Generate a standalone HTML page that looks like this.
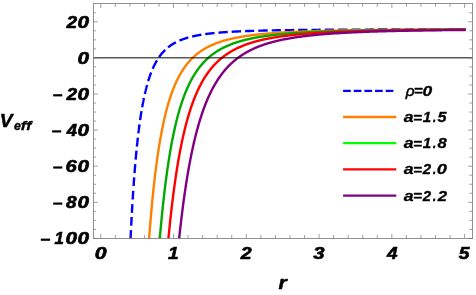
<!DOCTYPE html>
<html><head><meta charset="utf-8"><style>html,body{margin:0;padding:0;background:#fff}svg{display:block}</style></head><body>
<svg width="476" height="295" viewBox="0 0 476 295">
<defs><clipPath id="c"><rect x="93.50" y="3.40" width="379.10" height="235.00"/></clipPath></defs>
<rect width="476" height="295" fill="#fff"/>
<g clip-path="url(#c)" fill="none" stroke-width="2.4" stroke-linejoin="round">
<path d="M130.52 239.41 L130.55 238.63 L130.59 237.84 L130.63 237.06 L130.66 236.28 L130.70 235.50 L130.74 234.73 L130.78 233.96 L130.82 233.19 L130.85 232.42 L130.89 231.66 L130.93 230.90 L130.97 230.15 M131.19 225.67 L131.23 224.93 L131.27 224.19 L131.31 223.46 L131.35 222.73 L131.38 222.01 L131.42 221.29 L131.46 220.57 L131.50 219.85 L131.54 219.13 L131.58 218.42 L131.62 217.71 L131.65 217.00 M131.89 212.82 L131.93 212.13 L131.96 211.44 L132.00 210.76 L132.04 210.08 L132.08 209.40 L132.12 208.72 L132.16 208.05 L132.20 207.38 L132.24 206.71 L132.28 206.05 L132.32 205.38 L132.36 204.72 L132.40 204.06 M132.68 199.52 L132.72 198.89 L132.76 198.25 L132.80 197.62 L132.84 196.98 L132.88 196.35 L132.92 195.73 L132.96 195.10 L133.00 194.48 L133.04 193.86 L133.08 193.24 L133.12 192.63 L133.16 192.02 L133.20 191.41 L133.24 190.80 M133.57 186.01 L133.61 185.42 L133.65 184.84 L133.69 184.25 L133.73 183.67 L133.77 183.09 L133.81 182.52 L133.86 181.94 L133.90 181.37 L133.94 180.80 L133.98 180.23 L134.02 179.66 L134.06 179.10 L134.10 178.54 L134.15 177.98 L134.19 177.42 M134.52 173.03 L134.57 172.49 L134.61 171.95 L134.65 171.42 L134.69 170.89 L134.74 170.35 L134.78 169.82 L134.82 169.30 L134.86 168.77 L134.91 168.25 L134.95 167.73 L134.99 167.21 L135.04 166.69 L135.08 166.17 L135.12 165.66 L135.16 165.15 L135.21 164.64 L135.25 164.13 M135.64 159.65 L135.69 159.16 L135.73 158.67 L135.77 158.18 L135.82 157.70 L135.86 157.22 L135.90 156.74 L135.95 156.26 L135.99 155.78 L136.04 155.31 L136.08 154.84 L136.13 154.37 L136.17 153.90 L136.21 153.43 L136.26 152.96 L136.30 152.50 L136.35 152.04 L136.39 151.58 L136.44 151.12 L136.48 150.66 M136.89 146.62 L136.93 146.18 L136.98 145.74 L137.02 145.31 L137.07 144.87 L137.11 144.44 L137.16 144.01 L137.20 143.58 L137.25 143.15 L137.30 142.72 L137.34 142.29 L137.39 141.87 L137.43 141.45 L137.48 141.03 L137.52 140.61 L137.57 140.19 L137.62 139.77 L137.66 139.36 L137.71 138.95 L137.76 138.53 L137.80 138.12 L137.85 137.72 M138.36 133.32 L138.41 132.93 L138.46 132.54 L138.50 132.16 L138.55 131.77 L138.60 131.39 L138.65 131.00 L138.69 130.62 L138.74 130.24 L138.79 129.86 L138.84 129.49 L138.88 129.11 L138.93 128.73 L138.98 128.36 L139.03 127.99 L139.08 127.62 L139.12 127.25 L139.17 126.88 L139.22 126.52 L139.27 126.15 L139.32 125.79 L139.36 125.43 L139.41 125.07 L139.46 124.71 L139.51 124.35 M140.10 120.16 L140.14 119.81 L140.19 119.48 L140.24 119.14 L140.29 118.80 L140.34 118.46 L140.39 118.13 L140.44 117.80 L140.49 117.46 L140.54 117.13 L140.59 116.80 L140.64 116.47 L140.69 116.15 L140.74 115.82 L140.79 115.50 L140.84 115.17 L140.89 114.85 L140.94 114.53 L140.99 114.21 L141.04 113.89 L141.09 113.57 L141.14 113.26 L141.19 112.94 L141.24 112.63 L141.30 112.32 L141.35 112.01 L141.40 111.69 L141.45 111.39 L141.50 111.08 M142.17 107.18 L142.22 106.88 L142.27 106.59 L142.32 106.30 L142.38 106.01 L142.43 105.73 L142.48 105.44 L142.53 105.15 L142.58 104.87 L142.64 104.59 L142.69 104.30 L142.74 104.02 L142.79 103.74 L142.85 103.46 L142.90 103.18 L142.95 102.91 L143.01 102.63 L143.06 102.35 L143.11 102.08 L143.16 101.81 L143.22 101.54 L143.27 101.26 L143.32 100.99 L143.38 100.73 L143.43 100.46 L143.48 100.19 L143.54 99.92 L143.59 99.66 L143.64 99.40 L143.70 99.13 L143.75 98.87 L143.81 98.61 L143.86 98.35 L143.91 98.09 M144.79 94.07 L144.84 93.83 L144.90 93.59 L144.95 93.35 L145.01 93.11 L145.06 92.87 L145.12 92.63 L145.17 92.39 L145.23 92.15 L145.29 91.92 L145.34 91.68 L145.40 91.45 L145.45 91.22 L145.51 90.98 L145.57 90.75 L145.62 90.52 L145.68 90.29 L145.73 90.06 L145.79 89.83 L145.85 89.61 L145.90 89.38 L145.96 89.16 L146.02 88.93 L146.07 88.71 L146.13 88.48 L146.19 88.26 L146.24 88.04 L146.30 87.82 L146.36 87.60 L146.41 87.38 L146.47 87.16 L146.53 86.95 L146.59 86.73 L146.64 86.52 L146.70 86.30 L146.76 86.09 L146.82 85.87 L146.87 85.66 L146.93 85.45 L146.99 85.24 L147.05 85.03 M148.16 81.19 L148.22 80.99 L148.28 80.80 L148.34 80.60 L148.40 80.41 L148.46 80.22 L148.52 80.03 L148.58 79.84 L148.64 79.65 L148.70 79.46 L148.76 79.27 L148.82 79.08 L148.88 78.90 L148.94 78.71 L149.00 78.53 L149.06 78.34 L149.12 78.16 L149.18 77.97 L149.24 77.79 L149.30 77.61 L149.36 77.43 L149.43 77.25 L149.49 77.07 L149.55 76.89 L149.61 76.71 L149.67 76.53 L149.73 76.35 L149.79 76.18 L149.85 76.00 L149.91 75.83 L149.98 75.65 L150.04 75.48 L150.10 75.30 L150.16 75.13 L150.22 74.96 L150.29 74.79 L150.35 74.62 L150.41 74.45 L150.47 74.28 L150.53 74.11 L150.60 73.94 L150.66 73.77 L150.72 73.61 L150.78 73.44 L150.85 73.28 L150.91 73.11 L150.97 72.95 L151.04 72.78 L151.10 72.62 L151.16 72.46 M152.70 68.73 L152.76 68.58 L152.83 68.44 L152.89 68.29 L152.96 68.14 L153.03 68.00 L153.09 67.85 L153.16 67.71 L153.22 67.56 L153.29 67.42 L153.35 67.28 L153.42 67.13 L153.49 66.99 L153.55 66.85 L153.62 66.71 L153.68 66.57 L153.75 66.43 L153.82 66.29 L153.88 66.15 L153.95 66.01 L154.02 65.88 L154.08 65.74 L154.15 65.60 L154.22 65.47 L154.28 65.33 L154.35 65.19 L154.42 65.06 L154.48 64.93 L154.55 64.79 L154.62 64.66 L154.69 64.53 L154.75 64.39 L154.82 64.26 L154.89 64.13 L154.96 64.00 L155.03 63.87 L155.09 63.74 L155.16 63.61 L155.23 63.48 L155.30 63.35 L155.37 63.23 L155.44 63.10 L155.50 62.97 L155.57 62.85 L155.64 62.72 L155.71 62.59 L155.78 62.47 L155.85 62.34 L155.92 62.22 L155.99 62.10 L156.05 61.97 L156.12 61.85 L156.19 61.73 L156.26 61.61 L156.33 61.49 L156.40 61.37 L156.47 61.24 L156.54 61.12 L156.61 61.01 L156.68 60.89 L156.75 60.77 L156.82 60.65 L156.89 60.53 L156.96 60.41 M159.11 57.10 L159.19 56.99 L159.26 56.89 L159.33 56.78 L159.41 56.68 L159.48 56.58 L159.55 56.48 L159.63 56.37 L159.70 56.27 L159.78 56.17 L159.85 56.07 L159.92 55.97 L160.00 55.87 L160.07 55.77 L160.15 55.67 L160.22 55.57 L160.29 55.47 L160.37 55.37 L160.44 55.28 L160.52 55.18 L160.59 55.08 L160.67 54.98 L160.74 54.89 L160.82 54.79 L160.89 54.70 L160.97 54.60 L161.04 54.51 L161.12 54.41 L161.20 54.32 L161.27 54.22 L161.35 54.13 L161.42 54.04 L161.50 53.94 L161.58 53.85 L161.65 53.76 L161.73 53.67 L161.80 53.58 L161.88 53.48 L161.96 53.39 L162.03 53.30 L162.11 53.21 L162.19 53.12 L162.26 53.03 L162.34 52.95 L162.42 52.86 L162.50 52.77 L162.57 52.68 L162.65 52.59 L162.73 52.50 L162.81 52.42 L162.88 52.33 L162.96 52.24 L163.04 52.16 L163.12 52.07 L163.20 51.99 L163.27 51.90 L163.35 51.82 L163.43 51.73 L163.51 51.65 L163.59 51.56 L163.67 51.48 L163.75 51.40 L163.82 51.31 L163.90 51.23 L163.98 51.15 L164.06 51.07 L164.14 50.99 L164.22 50.90 L164.30 50.82 L164.38 50.74 L164.46 50.66 L164.54 50.58 L164.62 50.50 L164.70 50.42 L164.78 50.34 L164.86 50.26 L164.94 50.19 L165.02 50.11 L165.10 50.03 L165.18 49.95 M168.07 47.40 L168.15 47.34 L168.24 47.27 L168.32 47.20 L168.41 47.13 L168.49 47.07 L168.58 47.00 L168.66 46.93 L168.75 46.87 L168.83 46.80 L168.92 46.74 L169.00 46.67 L169.09 46.61 L169.17 46.54 L169.26 46.48 L169.34 46.41 L169.43 46.35 L169.52 46.28 L169.60 46.22 L169.69 46.16 L169.78 46.09 L169.86 46.03 L169.95 45.97 L170.04 45.90 L170.12 45.84 L170.21 45.78 L170.30 45.72 L170.38 45.66 L170.47 45.59 L170.56 45.53 L170.65 45.47 L170.73 45.41 L170.82 45.35 L170.91 45.29 L171.00 45.23 L171.08 45.17 L171.17 45.11 L171.26 45.05 L171.35 44.99 L171.44 44.93 L171.53 44.88 L171.61 44.82 L171.70 44.76 L171.79 44.70 L171.88 44.64 L171.97 44.59 L172.06 44.53 L172.15 44.47 L172.24 44.41 L172.33 44.36 L172.42 44.30 L172.51 44.24 L172.60 44.19 L172.69 44.13 L172.78 44.08 L172.87 44.02 L172.96 43.97 L173.05 43.91 L173.14 43.86 L173.23 43.80 L173.32 43.75 L173.41 43.69 L173.50 43.64 L173.59 43.58 L173.69 43.53 L173.78 43.48 L173.87 43.42 L173.96 43.37 L174.05 43.32 L174.14 43.27 L174.24 43.21 L174.33 43.16 L174.42 43.11 L174.51 43.06 L174.60 43.01 L174.70 42.95 L174.79 42.90 L174.88 42.85 L174.98 42.80 L175.07 42.75 L175.16 42.70 L175.25 42.65 L175.35 42.60 L175.44 42.55 L175.54 42.50 L175.63 42.45 L175.72 42.40 L175.82 42.35 L175.91 42.30 M179.48 40.61 L179.57 40.57 L179.67 40.53 L179.77 40.49 L179.87 40.44 L179.97 40.40 L180.07 40.36 L180.17 40.32 L180.27 40.28 L180.37 40.24 L180.47 40.19 L180.57 40.15 L180.67 40.11 L180.77 40.07 L180.87 40.03 L180.97 39.99 L181.07 39.95 L181.17 39.91 L181.27 39.87 L181.37 39.83 L181.47 39.79 L181.57 39.75 L181.67 39.71 L181.78 39.67 L181.88 39.64 L181.98 39.60 L182.08 39.56 L182.18 39.52 L182.28 39.48 L182.39 39.44 L182.49 39.41 L182.59 39.37 L182.69 39.33 L182.80 39.29 L182.90 39.25 L183.00 39.22 L183.11 39.18 L183.21 39.14 L183.31 39.11 L183.42 39.07 L183.52 39.03 L183.62 39.00 L183.73 38.96 L183.83 38.92 L183.93 38.89 L184.04 38.85 L184.14 38.81 L184.25 38.78 L184.35 38.74 L184.46 38.71 L184.56 38.67 L184.67 38.64 L184.77 38.60 L184.88 38.57 L184.98 38.53 L185.09 38.50 L185.19 38.46 L185.30 38.43 L185.41 38.39 L185.51 38.36 L185.62 38.33 L185.72 38.29 L185.83 38.26 L185.94 38.23 L186.04 38.19 L186.15 38.16 L186.26 38.12 L186.37 38.09 L186.47 38.06 L186.58 38.03 L186.69 37.99 L186.80 37.96 L186.90 37.93 L187.01 37.90 L187.12 37.86 L187.23 37.83 L187.34 37.80 L187.44 37.77 L187.55 37.74 L187.66 37.70 L187.77 37.67 L187.88 37.64 L187.99 37.61 L188.10 37.58 L188.21 37.55 L188.32 37.52 M192.13 36.53 L192.24 36.50 L192.36 36.47 L192.47 36.45 L192.59 36.42 L192.70 36.39 L192.82 36.37 L192.93 36.34 L193.05 36.31 L193.16 36.29 L193.28 36.26 L193.39 36.24 L193.51 36.21 L193.63 36.18 L193.74 36.16 L193.86 36.13 L193.98 36.11 L194.09 36.08 L194.21 36.06 L194.33 36.03 L194.44 36.00 L194.56 35.98 L194.68 35.95 L194.80 35.93 L194.92 35.90 L195.03 35.88 L195.15 35.86 L195.27 35.83 L195.39 35.81 L195.51 35.78 L195.63 35.76 L195.74 35.73 L195.86 35.71 L195.98 35.68 L196.10 35.66 L196.22 35.64 L196.34 35.61 L196.46 35.59 L196.58 35.57 L196.70 35.54 L196.82 35.52 L196.94 35.50 L197.06 35.47 L197.18 35.45 L197.30 35.43 L197.42 35.40 L197.55 35.38 L197.67 35.36 L197.79 35.33 L197.91 35.31 L198.03 35.29 L198.15 35.27 L198.28 35.24 L198.40 35.22 L198.52 35.20 L198.64 35.18 L198.77 35.15 L198.89 35.13 L199.01 35.11 L199.13 35.09 L199.26 35.07 L199.38 35.05 L199.50 35.02 L199.63 35.00 L199.75 34.98 L199.88 34.96 L200.00 34.94 L200.13 34.92 L200.25 34.90 L200.37 34.88 L200.50 34.85 L200.62 34.83 L200.75 34.81 L200.87 34.79 L201.00 34.77 L201.13 34.75 L201.25 34.73 L201.38 34.71 M205.23 34.13 L205.36 34.11 L205.49 34.10 L205.62 34.08 L205.76 34.06 L205.89 34.04 L206.02 34.02 L206.15 34.01 L206.28 33.99 L206.42 33.97 L206.55 33.95 L206.68 33.94 L206.81 33.92 L206.95 33.90 L207.08 33.88 L207.21 33.87 L207.35 33.85 L207.48 33.83 L207.61 33.82 L207.75 33.80 L207.88 33.78 L208.02 33.76 L208.15 33.75 L208.28 33.73 L208.42 33.71 L208.55 33.70 L208.69 33.68 L208.82 33.66 L208.96 33.65 L209.10 33.63 L209.23 33.62 L209.37 33.60 L209.50 33.58 L209.64 33.57 L209.78 33.55 L209.91 33.53 L210.05 33.52 L210.19 33.50 L210.32 33.49 L210.46 33.47 L210.60 33.46 L210.74 33.44 L210.87 33.42 L211.01 33.41 L211.15 33.39 L211.29 33.38 L211.43 33.36 L211.57 33.35 L211.70 33.33 L211.84 33.32 L211.98 33.30 L212.12 33.29 L212.26 33.27 L212.40 33.26 L212.54 33.24 L212.68 33.23 L212.82 33.21 L212.96 33.20 L213.10 33.18 L213.24 33.17 L213.39 33.15 L213.53 33.14 L213.67 33.13 L213.81 33.11 L213.95 33.10 L214.09 33.08 L214.23 33.07 L214.38 33.05 L214.52 33.04 M218.43 32.68 L218.58 32.67 L218.73 32.65 L218.88 32.64 L219.02 32.63 L219.17 32.61 L219.32 32.60 L219.47 32.59 L219.62 32.58 L219.77 32.57 L219.92 32.55 L220.07 32.54 L220.22 32.53 L220.36 32.52 L220.51 32.50 L220.66 32.49 L220.82 32.48 L220.97 32.47 L221.12 32.46 L221.27 32.44 L221.42 32.43 L221.57 32.42 L221.72 32.41 L221.87 32.40 L222.02 32.39 L222.18 32.37 L222.33 32.36 L222.48 32.35 L222.63 32.34 L222.79 32.33 L222.94 32.32 L223.09 32.31 L223.25 32.29 L223.40 32.28 L223.55 32.27 L223.71 32.26 L223.86 32.25 L224.02 32.24 L224.17 32.23 L224.32 32.22 L224.48 32.21 L224.63 32.19 L224.79 32.18 L224.95 32.17 L225.10 32.16 L225.26 32.15 L225.41 32.14 L225.57 32.13 L225.73 32.12 L225.88 32.11 L226.04 32.10 L226.20 32.09 L226.35 32.08 L226.51 32.07 L226.67 32.06 L226.83 32.05 L226.98 32.03 L227.14 32.02 L227.30 32.01 L227.46 32.00 L227.62 31.99 L227.78 31.98 M231.65 31.75 L231.82 31.74 L231.98 31.73 L232.15 31.72 L232.31 31.71 L232.48 31.71 L232.64 31.70 L232.81 31.69 L232.97 31.68 L233.14 31.67 L233.30 31.66 L233.47 31.65 L233.64 31.64 L233.80 31.63 L233.97 31.63 L234.14 31.62 L234.30 31.61 L234.47 31.60 L234.64 31.59 L234.81 31.58 L234.97 31.57 L235.14 31.56 L235.31 31.56 L235.48 31.55 L235.65 31.54 L235.82 31.53 L235.99 31.52 L236.16 31.51 L236.33 31.51 L236.50 31.50 L236.67 31.49 L236.84 31.48 L237.01 31.47 L237.18 31.46 L237.35 31.46 L237.52 31.45 L237.69 31.44 L237.86 31.43 L238.04 31.42 L238.21 31.42 L238.38 31.41 L238.55 31.40 L238.73 31.39 L238.90 31.38 L239.07 31.38 L239.24 31.37 L239.42 31.36 L239.59 31.35 L239.77 31.35 L239.94 31.34 L240.11 31.33 L240.29 31.32 L240.46 31.31 L240.64 31.31 L240.81 31.30 L240.99 31.29 M245.09 31.13 L245.27 31.12 L245.45 31.11 L245.63 31.11 L245.81 31.10 L246.00 31.09 L246.18 31.09 L246.36 31.08 L246.54 31.07 L246.73 31.07 L246.91 31.06 L247.09 31.05 L247.28 31.05 L247.46 31.04 L247.64 31.03 L247.83 31.03 L248.01 31.02 L248.20 31.01 L248.38 31.01 L248.57 31.00 L248.75 30.99 L248.94 30.99 L249.12 30.98 L249.31 30.97 L249.49 30.97 L249.68 30.96 L249.87 30.96 L250.05 30.95 L250.24 30.94 L250.43 30.94 L250.62 30.93 L250.80 30.92 L250.99 30.92 L251.18 30.91 L251.37 30.91 L251.56 30.90 L251.75 30.89 L251.94 30.89 L252.13 30.88 L252.32 30.88 L252.51 30.87 L252.70 30.86 L252.89 30.86 L253.08 30.85 L253.27 30.85 L253.46 30.84 L253.65 30.83 L253.84 30.83 L254.03 30.82 L254.23 30.82 M258.32 30.70 L258.52 30.70 L258.71 30.69 L258.91 30.69 L259.11 30.68 L259.31 30.68 L259.51 30.67 L259.71 30.66 L259.90 30.66 L260.10 30.65 L260.30 30.65 L260.50 30.64 L260.70 30.64 L260.90 30.63 L261.11 30.63 L261.31 30.62 L261.51 30.62 L261.71 30.61 L261.91 30.61 L262.11 30.60 L262.32 30.60 L262.52 30.59 L262.72 30.59 L262.92 30.58 L263.13 30.58 L263.33 30.57 L263.53 30.57 L263.74 30.57 L263.94 30.56 L264.15 30.56 L264.35 30.55 L264.56 30.55 L264.76 30.54 L264.97 30.54 L265.17 30.53 L265.38 30.53 L265.59 30.52 L265.79 30.52 L266.00 30.51 L266.21 30.51 L266.41 30.50 L266.62 30.50 L266.83 30.50 L267.04 30.49 L267.25 30.49 L267.46 30.48 L267.66 30.48 M271.68 30.40 L271.90 30.39 L272.11 30.39 L272.33 30.38 L272.54 30.38 L272.76 30.38 L272.97 30.37 L273.19 30.37 L273.41 30.36 L273.62 30.36 L273.84 30.35 L274.06 30.35 L274.27 30.35 L274.49 30.34 L274.71 30.34 L274.93 30.34 L275.15 30.33 L275.36 30.33 L275.58 30.32 L275.80 30.32 L276.02 30.32 L276.24 30.31 L276.46 30.31 L276.68 30.30 L276.90 30.30 L277.12 30.30 L277.34 30.29 L277.57 30.29 L277.79 30.29 L278.01 30.28 L278.23 30.28 L278.45 30.27 L278.68 30.27 L278.90 30.27 L279.12 30.26 L279.35 30.26 L279.57 30.26 L279.79 30.25 L280.02 30.25 L280.24 30.24 L280.47 30.24 L280.69 30.24 L280.92 30.23 M284.80 30.18 L285.03 30.17 L285.26 30.17 L285.49 30.17 L285.72 30.16 L285.95 30.16 L286.19 30.16 L286.42 30.15 L286.65 30.15 L286.88 30.15 L287.12 30.14 L287.35 30.14 L287.59 30.14 L287.82 30.13 L288.05 30.13 L288.29 30.13 L288.52 30.12 L288.76 30.12 L288.99 30.12 L289.23 30.11 L289.47 30.11 L289.70 30.11 L289.94 30.11 L290.18 30.10 L290.42 30.10 L290.65 30.10 L290.89 30.09 L291.13 30.09 L291.37 30.09 L291.61 30.08 L291.85 30.08 L292.09 30.08 L292.33 30.08 L292.57 30.07 L292.81 30.07 L293.05 30.07 L293.29 30.06 L293.53 30.06 L293.77 30.06 L294.01 30.06 L294.26 30.05 M298.17 30.01 L298.42 30.01 L298.67 30.00 L298.92 30.00 L299.16 30.00 L299.41 29.99 L299.66 29.99 L299.91 29.99 L300.16 29.99 L300.41 29.98 L300.66 29.98 L300.91 29.98 L301.16 29.98 L301.41 29.97 L301.67 29.97 L301.92 29.97 L302.17 29.97 L302.42 29.96 L302.68 29.96 L302.93 29.96 L303.18 29.96 L303.44 29.95 L303.69 29.95 L303.94 29.95 L304.20 29.95 L304.45 29.94 L304.71 29.94 L304.97 29.94 L305.22 29.94 L305.48 29.93 L305.73 29.93 L305.99 29.93 L306.25 29.93 L306.51 29.92 L306.76 29.92 L307.02 29.92 L307.28 29.92 L307.54 29.91 M311.46 29.88 L311.73 29.88 L311.99 29.88 L312.26 29.87 L312.52 29.87 L312.79 29.87 L313.05 29.87 L313.32 29.87 L313.58 29.86 L313.85 29.86 L314.12 29.86 L314.39 29.86 L314.65 29.85 L314.92 29.85 L315.19 29.85 L315.46 29.85 L315.73 29.85 L316.00 29.84 L316.27 29.84 L316.54 29.84 L316.81 29.84 L317.08 29.84 L317.35 29.83 L317.62 29.83 L317.89 29.83 L318.17 29.83 L318.44 29.83 L318.71 29.82 L318.98 29.82 L319.26 29.82 L319.53 29.82 L319.81 29.82 L320.08 29.81 L320.36 29.81 L320.63 29.81 M324.80 29.78 L325.08 29.78 L325.36 29.78 L325.65 29.78 L325.93 29.77 L326.21 29.77 L326.49 29.77 L326.78 29.77 L327.06 29.77 L327.34 29.76 L327.63 29.76 L327.91 29.76 L328.20 29.76 L328.48 29.76 L328.77 29.76 L329.05 29.75 L329.34 29.75 L329.63 29.75 L329.91 29.75 L330.20 29.75 L330.49 29.75 L330.78 29.74 L331.06 29.74 L331.35 29.74 L331.64 29.74 L331.93 29.74 L332.22 29.74 L332.51 29.73 L332.80 29.73 L333.09 29.73 L333.38 29.73 L333.68 29.73 L333.97 29.73 M338.09 29.70 L338.39 29.70 L338.69 29.70 L338.99 29.70 L339.29 29.70 L339.59 29.70 L339.88 29.69 L340.18 29.69 L340.48 29.69 L340.79 29.69 L341.09 29.69 L341.39 29.69 L341.69 29.69 L341.99 29.68 L342.29 29.68 L342.60 29.68 L342.90 29.68 L343.20 29.68 L343.51 29.68 L343.81 29.67 L344.12 29.67 L344.42 29.67 L344.73 29.67 L345.03 29.67 L345.34 29.67 L345.65 29.67 L345.95 29.66 L346.26 29.66 L346.57 29.66 L346.88 29.66 L347.18 29.66 L347.49 29.66 M351.54 29.64 L351.86 29.64 L352.17 29.64 L352.49 29.64 L352.80 29.64 L353.12 29.63 L353.44 29.63 L353.75 29.63 L354.07 29.63 L354.39 29.63 L354.71 29.63 L355.03 29.63 L355.34 29.63 L355.66 29.62 L355.98 29.62 L356.30 29.62 L356.62 29.62 L356.94 29.62 L357.26 29.62 L357.59 29.62 L357.91 29.62 L358.23 29.61 L358.55 29.61 L358.88 29.61 L359.20 29.61 L359.52 29.61 L359.85 29.61 L360.17 29.61 L360.50 29.61 M364.76 29.59 L365.09 29.59 L365.43 29.59 L365.76 29.59 L366.09 29.59 L366.42 29.58 L366.76 29.58 L367.09 29.58 L367.42 29.58 L367.76 29.58 L368.09 29.58 L368.43 29.58 L368.76 29.58 L369.10 29.58 L369.44 29.58 L369.77 29.57 L370.11 29.57 L370.45 29.57 L370.79 29.57 L371.12 29.57 L371.46 29.57 L371.80 29.57 L372.14 29.57 L372.48 29.57 L372.82 29.56 L373.16 29.56 L373.51 29.56 L373.85 29.56 M377.98 29.55 L378.33 29.55 L378.68 29.55 L379.03 29.55 L379.38 29.55 L379.73 29.54 L380.08 29.54 L380.43 29.54 L380.78 29.54 L381.13 29.54 L381.48 29.54 L381.83 29.54 L382.18 29.54 L382.54 29.54 L382.89 29.54 L383.24 29.54 L383.60 29.53 L383.95 29.53 L384.31 29.53 L384.66 29.53 L385.02 29.53 L385.38 29.53 L385.73 29.53 L386.09 29.53 L386.45 29.53 L386.81 29.53 L387.16 29.53 M391.50 29.52 L391.87 29.51 L392.23 29.51 L392.60 29.51 L392.96 29.51 L393.33 29.51 L393.70 29.51 L394.06 29.51 L394.43 29.51 L394.80 29.51 L395.17 29.51 L395.54 29.51 L395.91 29.51 L396.28 29.50 L396.65 29.50 L397.02 29.50 L397.39 29.50 L397.76 29.50 L398.13 29.50 L398.51 29.50 L398.88 29.50 L399.25 29.50 L399.63 29.50 L400.00 29.50 L400.38 29.50 M404.54 29.49 L404.92 29.49 L405.30 29.49 L405.68 29.49 L406.06 29.48 L406.45 29.48 L406.83 29.48 L407.21 29.48 L407.60 29.48 L407.98 29.48 L408.37 29.48 L408.75 29.48 L409.14 29.48 L409.52 29.48 L409.91 29.48 L410.30 29.48 L410.69 29.48 L411.08 29.48 L411.46 29.47 L411.85 29.47 L412.24 29.47 L412.63 29.47 L413.03 29.47 L413.42 29.47 L413.81 29.47 M418.15 29.46 L418.55 29.46 L418.95 29.46 L419.35 29.46 L419.75 29.46 L420.15 29.46 L420.55 29.46 L420.95 29.46 L421.35 29.46 L421.75 29.46 L422.16 29.46 L422.56 29.46 L422.96 29.46 L423.37 29.46 L423.77 29.45 L424.18 29.45 L424.58 29.45 L424.99 29.45 L425.39 29.45 L425.80 29.45 L426.21 29.45 L426.62 29.45 L427.02 29.45 M431.14 29.44 L431.55 29.44 L431.97 29.44 L432.38 29.44 L432.80 29.44 L433.21 29.44 L433.63 29.44 L434.05 29.44 L434.47 29.44 L434.88 29.44 L435.30 29.44 L435.72 29.44 L436.14 29.44 L436.56 29.44 L436.98 29.44 L437.41 29.44 L437.83 29.43 L438.25 29.43 L438.67 29.43 L439.10 29.43 L439.52 29.43 L439.95 29.43 L440.37 29.43 M444.65 29.43 L445.08 29.43 L445.52 29.43 L445.95 29.42 L446.38 29.42 L446.81 29.42 L447.25 29.42 L447.68 29.42 L448.12 29.42 L448.55 29.42 L448.99 29.42 L449.43 29.42 L449.86 29.42 L450.30 29.42 L450.74 29.42 L451.18 29.42 L451.62 29.42 L452.06 29.42 L452.50 29.42 L452.94 29.42 L453.38 29.42 L453.82 29.42 M457.83 29.41 L458.27 29.41 L458.72 29.41 L459.17 29.41 L459.62 29.41 L460.07 29.41 L460.52 29.41 L460.97 29.41 L461.42 29.41 L461.88 29.41 L462.33 29.41 L462.78 29.41 L463.23 29.41 L463.69 29.41 L464.14 29.41 L464.60 29.41" stroke="#0000ff"/>
<path d="M148.98 240.21 L149.22 236.93 L149.47 233.71 L149.71 230.54 L149.96 227.41 L150.21 224.34 L150.46 221.31 L150.71 218.33 L150.97 215.39 L151.22 212.50 L151.48 209.66 L151.74 206.86 L151.99 204.10 L152.25 201.39 L152.51 198.72 L152.78 196.09 L153.04 193.50 L153.31 190.95 L153.57 188.44 L153.84 185.96 L154.11 183.53 L154.38 181.14 L154.65 178.78 L154.93 176.46 L155.20 174.17 L155.48 171.92 L155.75 169.71 L156.03 167.53 L156.31 165.38 L156.59 163.26 L156.88 161.18 L157.16 159.13 L157.45 157.12 L157.74 155.13 L158.03 153.18 L158.32 151.25 L158.61 149.36 L158.90 147.49 L159.20 145.66 L159.49 143.85 L159.79 142.07 L160.09 140.32 L160.39 138.59 L160.69 136.89 L161.00 135.22 L161.30 133.57 L161.61 131.95 L161.92 130.36 L162.23 128.79 L162.54 127.24 L162.85 125.72 L163.17 124.22 L163.48 122.74 L163.80 121.29 L164.12 119.86 L164.44 118.45 L164.77 117.06 L165.09 115.70 L165.42 114.36 L165.75 113.03 L166.08 111.73 L166.41 110.45 L166.74 109.19 L167.07 107.94 L167.41 106.72 L167.75 105.52 L168.09 104.33 L168.43 103.16 L168.77 102.01 L169.12 100.88 L169.47 99.77 L169.81 98.67 L170.16 97.59 L170.52 96.53 L170.87 95.48 L171.23 94.45 L171.58 93.44 L171.94 92.44 L172.30 91.46 L172.67 90.49 L173.03 89.53 L173.40 88.60 L173.77 87.67 L174.14 86.76 L174.51 85.87 L174.88 84.99 L175.26 84.12 L175.64 83.27 L176.02 82.42 L176.40 81.60 L176.78 80.78 L177.17 79.98 L177.56 79.19 L177.95 78.41 L178.34 77.65 L178.73 76.89 L179.13 76.15 L179.52 75.42 L179.92 74.70 L180.32 73.99 L180.73 73.30 L181.13 72.61 L181.54 71.93 L181.95 71.27 L182.36 70.61 L182.78 69.97 L183.19 69.33 L183.61 68.71 L184.03 68.09 L184.45 67.49 L184.88 66.89 L185.31 66.30 L185.73 65.73 L186.17 65.16 L186.60 64.60 L187.03 64.05 L187.47 63.50 L187.91 62.97 L188.35 62.44 L188.80 61.92 L189.24 61.41 L189.69 60.91 L190.14 60.42 L190.60 59.93 L191.05 59.45 L191.51 58.98 L191.97 58.52 L192.44 58.06 L192.90 57.61 L193.37 57.16 L193.84 56.73 L194.31 56.30 L194.78 55.88 L195.26 55.46 L195.74 55.05 L196.22 54.65 L196.71 54.25 L197.19 53.86 L197.68 53.47 L198.17 53.09 L198.67 52.72 L199.17 52.35 L199.66 51.99 L200.17 51.64 L200.67 51.28 L201.18 50.94 L201.69 50.60 L202.20 50.27 L202.71 49.94 L203.23 49.61 L203.75 49.29 L204.27 48.98 L204.80 48.67 L205.33 48.36 L205.86 48.06 L206.39 47.77 L206.93 47.48 L207.46 47.19 L208.01 46.91 L208.55 46.63 L209.10 46.36 L209.65 46.09 L210.20 45.83 L210.75 45.57 L211.31 45.31 L211.87 45.06 L212.44 44.81 L213.00 44.56 L213.57 44.32 L214.15 44.09 L214.72 43.85 L215.30 43.62 L215.88 43.40 L216.46 43.17 L217.05 42.95 L217.64 42.74 L218.23 42.53 L218.83 42.32 L219.43 42.11 L220.03 41.91 L220.64 41.71 L221.25 41.51 L221.86 41.32 L222.47 41.13 L223.09 40.94 L223.71 40.75 L224.33 40.57 L224.96 40.39 L225.59 40.22 L226.22 40.04 L226.86 39.87 L227.50 39.70 L228.14 39.54 L228.79 39.38 L229.44 39.21 L230.09 39.06 L230.75 38.90 L231.41 38.75 L232.07 38.60 L232.74 38.45 L233.41 38.30 L234.08 38.16 L234.76 38.02 L235.44 37.88 L236.12 37.74 L236.81 37.60 L237.50 37.47 L238.19 37.34 L238.89 37.21 L239.59 37.08 L240.29 36.96 L241.00 36.84 L241.71 36.72 L242.43 36.60 L243.15 36.48 L243.87 36.36 L244.59 36.25 L245.32 36.14 L246.06 36.03 L246.79 35.92 L247.54 35.81 L248.28 35.71 L249.03 35.60 L249.78 35.50 L250.54 35.40 L251.30 35.30 L252.06 35.20 L252.83 35.11 L253.60 35.01 L254.38 34.92 L255.16 34.83 L255.94 34.74 L256.73 34.65 L257.52 34.56 L258.31 34.48 L259.11 34.39 L259.92 34.31 L260.72 34.23 L261.54 34.15 L262.35 34.07 L263.17 33.99 L264.00 33.91 L264.82 33.84 L265.66 33.76 L266.49 33.69 L267.33 33.62 L268.18 33.54 L269.03 33.47 L269.88 33.41 L270.74 33.34 L271.60 33.27 L272.47 33.20 L273.34 33.14 L274.22 33.08 L275.10 33.01 L275.98 32.95 L276.87 32.89 L277.76 32.83 L278.66 32.77 L279.57 32.71 L280.47 32.66 L281.38 32.60 L282.30 32.54 L283.22 32.49 L284.15 32.44 L285.08 32.38 L286.01 32.33 L286.95 32.28 L287.90 32.23 L288.85 32.18 L289.80 32.13 L290.76 32.08 L291.73 32.03 L292.70 31.99 L293.67 31.94 L294.65 31.90 L295.63 31.85 L296.62 31.81 L297.61 31.76 L298.61 31.72 L299.62 31.68 L300.63 31.64 L301.64 31.60 L302.66 31.56 L303.69 31.52 L304.71 31.48 L305.75 31.44 L306.79 31.40 L307.84 31.37 L308.89 31.33 L309.94 31.30 L311.00 31.26 L312.07 31.23 L313.14 31.19 L314.22 31.16 L315.30 31.12 L316.39 31.09 L317.49 31.06 L318.59 31.03 L319.69 31.00 L320.80 30.97 L321.92 30.94 L323.04 30.91 L324.17 30.88 L325.30 30.85 L326.44 30.82 L327.59 30.79 L328.74 30.76 L329.90 30.74 L331.06 30.71 L332.23 30.68 L333.40 30.66 L334.58 30.63 L335.77 30.61 L336.96 30.58 L338.16 30.56 L339.37 30.54 L340.58 30.51 L341.79 30.49 L343.02 30.47 L344.25 30.44 L345.48 30.42 L346.72 30.40 L347.97 30.38 L349.23 30.36 L350.49 30.34 L351.75 30.32 L353.03 30.30 L354.31 30.28 L355.59 30.26 L356.89 30.24 L358.19 30.22 L359.49 30.20 L360.81 30.18 L362.13 30.16 L363.45 30.15 L364.79 30.13 L366.13 30.11 L367.47 30.09 L368.83 30.08 L370.19 30.06 L371.55 30.05 L372.93 30.03 L374.31 30.01 L375.70 30.00 L377.09 29.98 L378.49 29.97 L379.90 29.95 L381.32 29.94 L382.74 29.93 L384.17 29.91 L385.61 29.90 L387.06 29.88 L388.51 29.87 L389.97 29.86 L391.44 29.84 L392.91 29.83 L394.40 29.82 L395.89 29.81 L397.38 29.79 L398.89 29.78 L400.40 29.77 L401.92 29.76 L403.45 29.75 L404.99 29.74 L406.53 29.72 L408.08 29.71 L409.64 29.70 L411.21 29.69 L412.79 29.68 L414.37 29.67 L415.96 29.66 L417.56 29.65 L419.17 29.64 L420.78 29.63 L422.41 29.62 L424.04 29.61 L425.68 29.60 L427.33 29.60 L428.99 29.59 L430.65 29.58 L432.33 29.57 L434.01 29.56 L435.70 29.55 L437.40 29.54 L439.11 29.54 L440.83 29.53 L442.55 29.52 L444.29 29.51 L446.03 29.50 L447.78 29.50 L449.54 29.49 L451.31 29.48 L453.09 29.48 L454.88 29.47 L456.68 29.46 L458.48 29.45 L460.30 29.45 L462.12 29.44 L463.96 29.43 L465.80 29.43" stroke="#ff8000"/>
<path d="M159.65 240.20 L159.92 237.04 L160.19 233.93 L160.46 230.87 L160.74 227.84 L161.01 224.87 L161.29 221.94 L161.56 219.05 L161.84 216.21 L162.12 213.41 L162.40 210.65 L162.68 207.93 L162.97 205.25 L163.25 202.61 L163.54 200.02 L163.82 197.46 L164.11 194.94 L164.40 192.45 L164.69 190.01 L164.98 187.60 L165.28 185.23 L165.57 182.89 L165.87 180.59 L166.16 178.32 L166.46 176.08 L166.76 173.88 L167.07 171.72 L167.37 169.58 L167.67 167.48 L167.98 165.40 L168.29 163.36 L168.59 161.35 L168.90 159.37 L169.22 157.42 L169.53 155.50 L169.84 153.61 L170.16 151.74 L170.48 149.91 L170.79 148.10 L171.11 146.32 L171.44 144.56 L171.76 142.83 L172.08 141.13 L172.41 139.45 L172.74 137.80 L173.07 136.17 L173.40 134.57 L173.73 132.99 L174.06 131.43 L174.40 129.90 L174.73 128.39 L175.07 126.90 L175.41 125.44 L175.75 123.99 L176.09 122.57 L176.44 121.17 L176.78 119.79 L177.13 118.44 L177.48 117.10 L177.83 115.78 L178.18 114.48 L178.54 113.20 L178.89 111.94 L179.25 110.70 L179.61 109.48 L179.97 108.28 L180.33 107.09 L180.69 105.92 L181.06 104.77 L181.43 103.64 L181.80 102.52 L182.17 101.42 L182.54 100.34 L182.91 99.27 L183.29 98.22 L183.66 97.18 L184.04 96.16 L184.42 95.16 L184.81 94.17 L185.19 93.19 L185.58 92.23 L185.96 91.29 L186.35 90.36 L186.74 89.44 L187.14 88.53 L187.53 87.64 L187.93 86.77 L188.33 85.90 L188.73 85.05 L189.13 84.21 L189.53 83.39 L189.94 82.57 L190.35 81.77 L190.76 80.98 L191.17 80.20 L191.58 79.44 L192.00 78.68 L192.41 77.94 L192.83 77.21 L193.25 76.49 L193.68 75.78 L194.10 75.08 L194.53 74.39 L194.96 73.71 L195.39 73.04 L195.82 72.38 L196.25 71.73 L196.69 71.09 L197.13 70.46 L197.57 69.84 L198.01 69.23 L198.46 68.63 L198.90 68.04 L199.35 67.45 L199.80 66.88 L200.25 66.31 L200.71 65.75 L201.17 65.20 L201.62 64.66 L202.09 64.13 L202.55 63.60 L203.01 63.09 L203.48 62.58 L203.95 62.07 L204.42 61.58 L204.90 61.09 L205.37 60.61 L205.85 60.14 L206.33 59.67 L206.81 59.22 L207.30 58.76 L207.78 58.32 L208.27 57.88 L208.77 57.45 L209.26 57.02 L209.76 56.60 L210.25 56.19 L210.75 55.78 L211.26 55.38 L211.76 54.99 L212.27 54.60 L212.78 54.22 L213.29 53.84 L213.81 53.47 L214.32 53.10 L214.84 52.74 L215.36 52.39 L215.89 52.04 L216.41 51.69 L216.94 51.35 L217.47 51.02 L218.01 50.69 L218.54 50.37 L219.08 50.05 L219.62 49.73 L220.16 49.42 L220.71 49.12 L221.26 48.82 L221.81 48.52 L222.36 48.23 L222.92 47.94 L223.48 47.66 L224.04 47.38 L224.60 47.10 L225.17 46.83 L225.74 46.57 L226.31 46.30 L226.88 46.05 L227.46 45.79 L228.04 45.54 L228.62 45.29 L229.20 45.05 L229.79 44.81 L230.38 44.57 L230.97 44.34 L231.57 44.11 L232.17 43.89 L232.77 43.66 L233.37 43.44 L233.98 43.23 L234.58 43.02 L235.20 42.81 L235.81 42.60 L236.43 42.40 L237.05 42.20 L237.67 42.00 L238.30 41.80 L238.93 41.61 L239.56 41.43 L240.19 41.24 L240.83 41.06 L241.47 40.88 L242.11 40.70 L242.76 40.52 L243.41 40.35 L244.06 40.18 L244.72 40.02 L245.37 39.85 L246.03 39.69 L246.70 39.53 L247.37 39.37 L248.04 39.22 L248.71 39.06 L249.39 38.91 L250.07 38.77 L250.75 38.62 L251.43 38.48 L252.12 38.34 L252.81 38.20 L253.51 38.06 L254.21 37.92 L254.91 37.79 L255.61 37.66 L256.32 37.53 L257.03 37.40 L257.75 37.28 L258.46 37.15 L259.19 37.03 L259.91 36.91 L260.64 36.79 L261.37 36.68 L262.10 36.56 L262.84 36.45 L263.58 36.34 L264.32 36.23 L265.07 36.12 L265.82 36.01 L266.58 35.91 L267.34 35.81 L268.10 35.71 L268.86 35.61 L269.63 35.51 L270.40 35.41 L271.18 35.31 L271.96 35.22 L272.74 35.13 L273.53 35.04 L274.32 34.95 L275.11 34.86 L275.91 34.77 L276.71 34.68 L277.51 34.60 L278.32 34.52 L279.13 34.43 L279.95 34.35 L280.77 34.27 L281.59 34.19 L282.42 34.12 L283.25 34.04 L284.08 33.96 L284.92 33.89 L285.76 33.82 L286.61 33.75 L287.46 33.68 L288.31 33.61 L289.17 33.54 L290.03 33.47 L290.89 33.40 L291.76 33.34 L292.64 33.27 L293.51 33.21 L294.39 33.15 L295.28 33.08 L296.17 33.02 L297.06 32.96 L297.96 32.90 L298.86 32.85 L299.77 32.79 L300.68 32.73 L301.59 32.68 L302.51 32.62 L303.43 32.57 L304.36 32.52 L305.29 32.46 L306.22 32.41 L307.16 32.36 L308.11 32.31 L309.05 32.26 L310.01 32.21 L310.96 32.17 L311.92 32.12 L312.89 32.07 L313.86 32.03 L314.83 31.98 L315.81 31.94 L316.79 31.89 L317.78 31.85 L318.77 31.81 L319.77 31.77 L320.77 31.73 L321.78 31.68 L322.79 31.65 L323.80 31.61 L324.82 31.57 L325.85 31.53 L326.88 31.49 L327.91 31.45 L328.95 31.42 L329.99 31.38 L331.04 31.35 L332.09 31.31 L333.15 31.28 L334.21 31.24 L335.28 31.21 L336.35 31.18 L337.43 31.15 L338.51 31.11 L339.60 31.08 L340.69 31.05 L341.79 31.02 L342.89 30.99 L344.00 30.96 L345.11 30.93 L346.23 30.90 L347.35 30.88 L348.48 30.85 L349.61 30.82 L350.75 30.79 L351.89 30.77 L353.04 30.74 L354.19 30.72 L355.35 30.69 L356.51 30.66 L357.68 30.64 L358.86 30.62 L360.04 30.59 L361.22 30.57 L362.41 30.55 L363.61 30.52 L364.81 30.50 L366.02 30.48 L367.23 30.46 L368.45 30.43 L369.67 30.41 L370.90 30.39 L372.14 30.37 L373.38 30.35 L374.62 30.33 L375.88 30.31 L377.13 30.29 L378.40 30.27 L379.67 30.26 L380.94 30.24 L382.22 30.22 L383.51 30.20 L384.80 30.18 L386.10 30.17 L387.41 30.15 L388.72 30.13 L390.03 30.11 L391.35 30.10 L392.68 30.08 L394.02 30.07 L395.36 30.05 L396.71 30.04 L398.06 30.02 L399.42 30.01 L400.78 29.99 L402.16 29.98 L403.53 29.96 L404.92 29.95 L406.31 29.93 L407.71 29.92 L409.11 29.91 L410.52 29.89 L411.93 29.88 L413.36 29.87 L414.79 29.85 L416.22 29.84 L417.66 29.83 L419.11 29.82 L420.57 29.81 L422.03 29.79 L423.50 29.78 L424.98 29.77 L426.46 29.76 L427.95 29.75 L429.44 29.74 L430.95 29.73 L432.45 29.72 L433.97 29.71 L435.49 29.70 L437.03 29.69 L438.56 29.68 L440.11 29.67 L441.66 29.66 L443.22 29.65 L444.78 29.64 L446.36 29.63 L447.94 29.62 L449.52 29.61 L451.12 29.60 L452.72 29.59 L454.33 29.58 L455.94 29.58 L457.57 29.57 L459.20 29.56 L460.84 29.55 L462.49 29.54 L464.14 29.54 L465.80 29.53" stroke="#00aa00"/>
<path d="M168.29 240.21 L168.58 237.19 L168.86 234.22 L169.15 231.29 L169.44 228.40 L169.73 225.55 L170.02 222.75 L170.31 219.98 L170.61 217.25 L170.90 214.57 L171.20 211.92 L171.50 209.31 L171.80 206.73 L172.10 204.19 L172.40 201.69 L172.70 199.23 L173.01 196.80 L173.31 194.40 L173.62 192.04 L173.93 189.71 L174.23 187.42 L174.55 185.16 L174.86 182.93 L175.17 180.73 L175.48 178.56 L175.80 176.43 L176.12 174.32 L176.44 172.25 L176.76 170.20 L177.08 168.19 L177.40 166.20 L177.72 164.24 L178.05 162.31 L178.38 160.41 L178.70 158.53 L179.03 156.68 L179.36 154.86 L179.70 153.06 L180.03 151.29 L180.36 149.55 L180.70 147.83 L181.04 146.13 L181.38 144.46 L181.72 142.81 L182.06 141.19 L182.40 139.58 L182.75 138.01 L183.10 136.45 L183.44 134.92 L183.79 133.40 L184.15 131.91 L184.50 130.44 L184.85 129.00 L185.21 127.57 L185.56 126.16 L185.92 124.77 L186.28 123.41 L186.64 122.06 L187.01 120.73 L187.37 119.42 L187.74 118.13 L188.10 116.86 L188.47 115.60 L188.84 114.37 L189.22 113.15 L189.59 111.95 L189.97 110.76 L190.34 109.60 L190.72 108.45 L191.10 107.31 L191.48 106.19 L191.87 105.09 L192.25 104.01 L192.64 102.94 L193.03 101.88 L193.42 100.84 L193.81 99.81 L194.20 98.80 L194.60 97.81 L194.99 96.83 L195.39 95.86 L195.79 94.90 L196.19 93.96 L196.60 93.04 L197.00 92.12 L197.41 91.22 L197.82 90.33 L198.23 89.46 L198.64 88.59 L199.05 87.74 L199.47 86.90 L199.89 86.08 L200.31 85.26 L200.73 84.46 L201.15 83.67 L201.57 82.89 L202.00 82.12 L202.43 81.36 L202.86 80.61 L203.29 79.88 L203.72 79.15 L204.16 78.44 L204.59 77.73 L205.03 77.03 L205.47 76.35 L205.92 75.67 L206.36 75.01 L206.81 74.35 L207.26 73.70 L207.71 73.07 L208.16 72.44 L208.61 71.82 L209.07 71.21 L209.53 70.60 L209.99 70.01 L210.45 69.42 L210.91 68.85 L211.38 68.28 L211.84 67.72 L212.31 67.17 L212.79 66.62 L213.26 66.08 L213.73 65.55 L214.21 65.03 L214.69 64.52 L215.17 64.01 L215.66 63.51 L216.14 63.02 L216.63 62.53 L217.12 62.06 L217.61 61.58 L218.11 61.12 L218.60 60.66 L219.10 60.21 L219.60 59.76 L220.10 59.33 L220.61 58.89 L221.11 58.47 L221.62 58.05 L222.13 57.63 L222.65 57.22 L223.16 56.82 L223.68 56.42 L224.20 56.03 L224.72 55.65 L225.25 55.27 L225.77 54.89 L226.30 54.52 L226.83 54.16 L227.36 53.80 L227.90 53.44 L228.44 53.10 L228.98 52.75 L229.52 52.41 L230.06 52.08 L230.61 51.75 L231.16 51.43 L231.71 51.11 L232.26 50.79 L232.82 50.48 L233.38 50.17 L233.94 49.87 L234.50 49.57 L235.07 49.28 L235.63 48.99 L236.20 48.71 L236.78 48.42 L237.35 48.15 L237.93 47.87 L238.51 47.61 L239.09 47.34 L239.68 47.08 L240.26 46.82 L240.85 46.57 L241.44 46.32 L242.04 46.07 L242.64 45.83 L243.24 45.59 L243.84 45.35 L244.44 45.12 L245.05 44.89 L245.66 44.66 L246.27 44.44 L246.89 44.22 L247.51 44.00 L248.13 43.79 L248.75 43.57 L249.38 43.37 L250.00 43.16 L250.63 42.96 L251.27 42.76 L251.90 42.56 L252.54 42.37 L253.19 42.18 L253.83 41.99 L254.48 41.81 L255.13 41.62 L255.78 41.44 L256.43 41.27 L257.09 41.09 L257.75 40.92 L258.42 40.75 L259.08 40.58 L259.75 40.42 L260.43 40.26 L261.10 40.09 L261.78 39.94 L262.46 39.78 L263.14 39.63 L263.83 39.48 L264.52 39.33 L265.21 39.18 L265.91 39.03 L266.60 38.89 L267.31 38.75 L268.01 38.61 L268.72 38.47 L269.43 38.34 L270.14 38.21 L270.86 38.08 L271.57 37.95 L272.30 37.82 L273.02 37.69 L273.75 37.57 L274.48 37.45 L275.22 37.33 L275.95 37.21 L276.69 37.09 L277.44 36.98 L278.19 36.86 L278.94 36.75 L279.69 36.64 L280.44 36.53 L281.20 36.42 L281.97 36.32 L282.73 36.21 L283.50 36.11 L284.28 36.01 L285.05 35.91 L285.83 35.81 L286.61 35.71 L287.40 35.62 L288.19 35.52 L288.98 35.43 L289.78 35.34 L290.57 35.25 L291.38 35.16 L292.18 35.07 L292.99 34.99 L293.81 34.90 L294.62 34.82 L295.44 34.74 L296.26 34.65 L297.09 34.57 L297.92 34.49 L298.75 34.42 L299.59 34.34 L300.43 34.26 L301.28 34.19 L302.12 34.11 L302.98 34.04 L303.83 33.97 L304.69 33.90 L305.55 33.83 L306.42 33.76 L307.29 33.69 L308.16 33.63 L309.04 33.56 L309.92 33.50 L310.80 33.43 L311.69 33.37 L312.58 33.31 L313.48 33.25 L314.38 33.19 L315.28 33.13 L316.19 33.07 L317.10 33.01 L318.01 32.95 L318.93 32.90 L319.85 32.84 L320.78 32.79 L321.71 32.73 L322.64 32.68 L323.58 32.63 L324.52 32.58 L325.47 32.52 L326.42 32.47 L327.37 32.43 L328.33 32.38 L329.29 32.33 L330.26 32.28 L331.23 32.24 L332.20 32.19 L333.18 32.14 L334.17 32.10 L335.15 32.06 L336.14 32.01 L337.14 31.97 L338.14 31.93 L339.14 31.89 L340.15 31.84 L341.16 31.80 L342.18 31.76 L343.20 31.73 L344.22 31.69 L345.25 31.65 L346.29 31.61 L347.32 31.57 L348.37 31.54 L349.41 31.50 L350.47 31.47 L351.52 31.43 L352.58 31.40 L353.65 31.36 L354.72 31.33 L355.79 31.30 L356.87 31.26 L357.95 31.23 L359.04 31.20 L360.13 31.17 L361.23 31.14 L362.33 31.11 L363.43 31.08 L364.54 31.05 L365.66 31.02 L366.78 30.99 L367.90 30.96 L369.03 30.94 L370.17 30.91 L371.31 30.88 L372.45 30.85 L373.60 30.83 L374.75 30.80 L375.91 30.78 L377.07 30.75 L378.24 30.73 L379.42 30.70 L380.59 30.68 L381.78 30.66 L382.97 30.63 L384.16 30.61 L385.36 30.59 L386.56 30.56 L387.77 30.54 L388.98 30.52 L390.20 30.50 L391.42 30.48 L392.65 30.46 L393.89 30.44 L395.13 30.42 L396.37 30.40 L397.62 30.38 L398.88 30.36 L400.14 30.34 L401.40 30.32 L402.67 30.30 L403.95 30.28 L405.23 30.26 L406.52 30.25 L407.81 30.23 L409.11 30.21 L410.41 30.19 L411.72 30.18 L413.04 30.16 L414.36 30.15 L415.69 30.13 L417.02 30.11 L418.35 30.10 L419.70 30.08 L421.05 30.07 L422.40 30.05 L423.76 30.04 L425.12 30.02 L426.50 30.01 L427.87 29.99 L429.26 29.98 L430.65 29.97 L432.04 29.95 L433.44 29.94 L434.85 29.93 L436.26 29.91 L437.68 29.90 L439.10 29.89 L440.53 29.88 L441.97 29.86 L443.41 29.85 L444.86 29.84 L446.32 29.83 L447.78 29.82 L449.25 29.81 L450.72 29.79 L452.20 29.78 L453.68 29.77 L455.18 29.76 L456.68 29.75 L458.18 29.74 L459.69 29.73 L461.21 29.72 L462.73 29.71 L464.26 29.70 L465.80 29.69" stroke="#ff0000"/>
<path d="M178.97 240.21 L179.27 237.35 L179.57 234.52 L179.88 231.74 L180.18 229.00 L180.49 226.29 L180.80 223.62 L181.11 220.98 L181.42 218.38 L181.73 215.82 L182.04 213.29 L182.35 210.79 L182.67 208.33 L182.98 205.90 L183.30 203.51 L183.62 201.15 L183.94 198.81 L184.26 196.51 L184.58 194.25 L184.91 192.01 L185.23 189.80 L185.56 187.62 L185.88 185.48 L186.21 183.36 L186.54 181.27 L186.87 179.21 L187.20 177.17 L187.54 175.17 L187.87 173.19 L188.21 171.24 L188.55 169.31 L188.89 167.41 L189.23 165.54 L189.57 163.69 L189.91 161.86 L190.25 160.06 L190.60 158.29 L190.95 156.54 L191.29 154.81 L191.64 153.11 L191.99 151.43 L192.35 149.77 L192.70 148.14 L193.05 146.52 L193.41 144.93 L193.77 143.36 L194.13 141.81 L194.49 140.29 L194.85 138.78 L195.21 137.29 L195.57 135.83 L195.94 134.38 L196.31 132.95 L196.68 131.55 L197.05 130.16 L197.42 128.79 L197.79 127.44 L198.17 126.10 L198.54 124.79 L198.92 123.49 L199.30 122.21 L199.68 120.95 L200.06 119.71 L200.44 118.48 L200.83 117.27 L201.21 116.07 L201.60 114.89 L201.99 113.73 L202.38 112.58 L202.77 111.45 L203.17 110.34 L203.56 109.23 L203.96 108.15 L204.36 107.08 L204.76 106.02 L205.16 104.98 L205.56 103.95 L205.96 102.93 L206.37 101.93 L206.78 100.95 L207.19 99.97 L207.60 99.01 L208.01 98.06 L208.42 97.13 L208.84 96.21 L209.26 95.30 L209.67 94.40 L210.09 93.51 L210.52 92.64 L210.94 91.78 L211.37 90.93 L211.79 90.09 L212.22 89.26 L212.65 88.45 L213.08 87.64 L213.52 86.85 L213.95 86.07 L214.39 85.29 L214.83 84.53 L215.27 83.78 L215.71 83.04 L216.15 82.31 L216.60 81.58 L217.04 80.87 L217.49 80.17 L217.94 79.48 L218.40 78.79 L218.85 78.12 L219.30 77.46 L219.76 76.80 L220.22 76.15 L220.68 75.51 L221.14 74.89 L221.61 74.26 L222.08 73.65 L222.54 73.05 L223.01 72.45 L223.49 71.86 L223.96 71.28 L224.43 70.71 L224.91 70.15 L225.39 69.59 L225.87 69.04 L226.35 68.50 L226.84 67.96 L227.33 67.44 L227.81 66.92 L228.30 66.40 L228.80 65.90 L229.29 65.40 L229.79 64.90 L230.28 64.42 L230.78 63.94 L231.29 63.47 L231.79 63.00 L232.30 62.54 L232.80 62.09 L233.31 61.64 L233.82 61.20 L234.34 60.76 L234.85 60.33 L235.37 59.91 L235.89 59.49 L236.41 59.08 L236.93 58.67 L237.46 58.27 L237.99 57.87 L238.52 57.48 L239.05 57.09 L239.58 56.71 L240.12 56.34 L240.66 55.97 L241.20 55.60 L241.74 55.24 L242.28 54.89 L242.83 54.54 L243.38 54.19 L243.93 53.85 L244.48 53.52 L245.03 53.18 L245.59 52.86 L246.15 52.53 L246.71 52.22 L247.27 51.90 L247.84 51.59 L248.41 51.29 L248.98 50.99 L249.55 50.69 L250.12 50.39 L250.70 50.10 L251.28 49.82 L251.86 49.54 L252.44 49.26 L253.03 48.99 L253.61 48.72 L254.20 48.45 L254.80 48.19 L255.39 47.93 L255.99 47.67 L256.59 47.42 L257.19 47.17 L257.79 46.92 L258.40 46.68 L259.01 46.44 L259.62 46.21 L260.23 45.97 L260.84 45.74 L261.46 45.52 L262.08 45.29 L262.70 45.07 L263.33 44.86 L263.96 44.64 L264.59 44.43 L265.22 44.22 L265.85 44.01 L266.49 43.81 L267.13 43.61 L267.77 43.41 L268.42 43.22 L269.06 43.03 L269.71 42.84 L270.37 42.65 L271.02 42.47 L271.68 42.28 L272.34 42.10 L273.00 41.93 L273.66 41.75 L274.33 41.58 L275.00 41.41 L275.67 41.24 L276.35 41.08 L277.03 40.91 L277.71 40.75 L278.39 40.59 L279.07 40.44 L279.76 40.28 L280.45 40.13 L281.15 39.98 L281.84 39.83 L282.54 39.68 L283.24 39.54 L283.95 39.40 L284.65 39.26 L285.36 39.12 L286.08 38.98 L286.79 38.85 L287.51 38.71 L288.23 38.58 L288.95 38.45 L289.68 38.32 L290.41 38.20 L291.14 38.07 L291.88 37.95 L292.61 37.83 L293.35 37.71 L294.10 37.59 L294.84 37.48 L295.59 37.36 L296.34 37.25 L297.10 37.14 L297.86 37.03 L298.62 36.92 L299.38 36.81 L300.15 36.71 L300.92 36.60 L301.69 36.50 L302.46 36.40 L303.24 36.30 L304.02 36.20 L304.81 36.10 L305.60 36.01 L306.39 35.91 L307.18 35.82 L307.98 35.73 L308.78 35.64 L309.58 35.55 L310.39 35.46 L311.19 35.37 L312.01 35.29 L312.82 35.20 L313.64 35.12 L314.46 35.03 L315.29 34.95 L316.11 34.87 L316.95 34.79 L317.78 34.72 L318.62 34.64 L319.46 34.56 L320.30 34.49 L321.15 34.41 L322.00 34.34 L322.85 34.27 L323.71 34.20 L324.57 34.13 L325.43 34.06 L326.30 33.99 L327.17 33.92 L328.05 33.86 L328.92 33.79 L329.80 33.73 L330.69 33.66 L331.58 33.60 L332.47 33.54 L333.36 33.48 L334.26 33.42 L335.16 33.36 L336.06 33.30 L336.97 33.24 L337.88 33.18 L338.80 33.13 L339.72 33.07 L340.64 33.02 L341.57 32.96 L342.49 32.91 L343.43 32.86 L344.36 32.80 L345.30 32.75 L346.25 32.70 L347.20 32.65 L348.15 32.60 L349.10 32.55 L350.06 32.51 L351.02 32.46 L351.99 32.41 L352.96 32.37 L353.93 32.32 L354.91 32.28 L355.89 32.23 L356.87 32.19 L357.86 32.15 L358.85 32.10 L359.85 32.06 L360.85 32.02 L361.85 31.98 L362.86 31.94 L363.87 31.90 L364.89 31.86 L365.91 31.82 L366.93 31.79 L367.96 31.75 L368.99 31.71 L370.02 31.67 L371.06 31.64 L372.11 31.60 L373.15 31.57 L374.21 31.53 L375.26 31.50 L376.32 31.47 L377.38 31.43 L378.45 31.40 L379.52 31.37 L380.60 31.34 L381.68 31.30 L382.76 31.27 L383.85 31.24 L384.94 31.21 L386.04 31.18 L387.14 31.15 L388.25 31.13 L389.36 31.10 L390.47 31.07 L391.59 31.04 L392.71 31.01 L393.84 30.99 L394.97 30.96 L396.10 30.93 L397.24 30.91 L398.39 30.88 L399.54 30.86 L400.69 30.83 L401.85 30.81 L403.01 30.78 L404.18 30.76 L405.35 30.74 L406.52 30.71 L407.70 30.69 L408.89 30.67 L410.08 30.64 L411.27 30.62 L412.47 30.60 L413.67 30.58 L414.88 30.56 L416.09 30.54 L417.31 30.52 L418.53 30.50 L419.76 30.48 L420.99 30.46 L422.23 30.44 L423.47 30.42 L424.71 30.40 L425.96 30.38 L427.22 30.36 L428.48 30.34 L429.74 30.33 L431.01 30.31 L432.29 30.29 L433.57 30.27 L434.85 30.26 L436.14 30.24 L437.43 30.22 L438.73 30.21 L440.04 30.19 L441.35 30.18 L442.66 30.16 L443.98 30.14 L445.31 30.13 L446.64 30.11 L447.97 30.10 L449.31 30.08 L450.66 30.07 L452.01 30.06 L453.36 30.04 L454.72 30.03 L456.09 30.01 L457.46 30.00 L458.84 29.99 L460.22 29.97 L461.61 29.96 L463.00 29.95 L464.40 29.94 L465.80 29.92" stroke="#800080"/>
</g>
<line x1="93.50" y1="57.70" x2="472.60" y2="57.70" stroke="#000" stroke-opacity="0.66" stroke-width="1.5"/>
<rect x="93.50" y="3.40" width="379.10" height="235.00" fill="none" stroke="#777" stroke-width="0.8"/>
<path d="M100.80 238.40 v-4.60 M100.80 3.40 v4.60 M115.35 238.40 v-3.40 M115.35 3.40 v3.40 M129.90 238.40 v-3.40 M129.90 3.40 v3.40 M144.46 238.40 v-3.40 M144.46 3.40 v3.40 M159.01 238.40 v-3.40 M159.01 3.40 v3.40 M173.56 238.40 v-4.60 M173.56 3.40 v4.60 M188.11 238.40 v-3.40 M188.11 3.40 v3.40 M202.66 238.40 v-3.40 M202.66 3.40 v3.40 M217.22 238.40 v-3.40 M217.22 3.40 v3.40 M231.77 238.40 v-3.40 M231.77 3.40 v3.40 M246.32 238.40 v-4.60 M246.32 3.40 v4.60 M260.87 238.40 v-3.40 M260.87 3.40 v3.40 M275.42 238.40 v-3.40 M275.42 3.40 v3.40 M289.98 238.40 v-3.40 M289.98 3.40 v3.40 M304.53 238.40 v-3.40 M304.53 3.40 v3.40 M319.08 238.40 v-4.60 M319.08 3.40 v4.60 M333.63 238.40 v-3.40 M333.63 3.40 v3.40 M348.18 238.40 v-3.40 M348.18 3.40 v3.40 M362.74 238.40 v-3.40 M362.74 3.40 v3.40 M377.29 238.40 v-3.40 M377.29 3.40 v3.40 M391.84 238.40 v-4.60 M391.84 3.40 v4.60 M406.39 238.40 v-3.40 M406.39 3.40 v3.40 M420.94 238.40 v-3.40 M420.94 3.40 v3.40 M435.50 238.40 v-3.40 M435.50 3.40 v3.40 M450.05 238.40 v-3.40 M450.05 3.40 v3.40 M464.60 238.40 v-4.60 M464.60 3.40 v4.60 M93.50 238.40 h4.40 M472.60 238.40 h-4.40 M93.50 229.38 h2.60 M472.60 229.38 h-3.20 M93.50 220.35 h2.60 M472.60 220.35 h-3.20 M93.50 211.32 h2.60 M472.60 211.32 h-3.20 M93.50 202.30 h4.40 M472.60 202.30 h-4.40 M93.50 193.28 h2.60 M472.60 193.28 h-3.20 M93.50 184.25 h2.60 M472.60 184.25 h-3.20 M93.50 175.22 h2.60 M472.60 175.22 h-3.20 M93.50 166.20 h4.40 M472.60 166.20 h-4.40 M93.50 157.17 h2.60 M472.60 157.17 h-3.20 M93.50 148.15 h2.60 M472.60 148.15 h-3.20 M93.50 139.12 h2.60 M472.60 139.12 h-3.20 M93.50 130.10 h4.40 M472.60 130.10 h-4.40 M93.50 121.07 h2.60 M472.60 121.07 h-3.20 M93.50 112.05 h2.60 M472.60 112.05 h-3.20 M93.50 103.03 h2.60 M472.60 103.03 h-3.20 M93.50 94.00 h4.40 M472.60 94.00 h-4.40 M93.50 84.97 h2.60 M472.60 84.97 h-3.20 M93.50 75.95 h2.60 M472.60 75.95 h-3.20 M93.50 66.92 h2.60 M472.60 66.92 h-3.20 M93.50 57.90 h4.40 M472.60 57.90 h-4.40 M93.50 48.88 h2.60 M472.60 48.88 h-3.20 M93.50 39.85 h2.60 M472.60 39.85 h-3.20 M93.50 30.82 h2.60 M472.60 30.82 h-3.20 M93.50 21.80 h4.40 M472.60 21.80 h-4.40 M93.50 12.77 h2.60 M472.60 12.77 h-3.20" stroke="#777" stroke-width="0.7" fill="none"/>
<g font-family="'Liberation Sans', sans-serif" fill="#000" stroke="#000" stroke-width="0.6" stroke-linejoin="round" opacity="0.999">
<text transform="translate(77.55 27.70) scale(1.250 1)" font-size="16.60" font-weight="bold" font-style="italic" stroke-width="0.60">0</text>
<text transform="translate(66.40 27.70) scale(1.146 1)" font-size="16.60" font-weight="bold" font-style="italic" stroke-width="0.60">2</text>
<text transform="translate(77.55 63.80) scale(1.250 1)" font-size="16.60" font-weight="bold" font-style="italic" stroke-width="0.60">0</text>
<text transform="translate(77.55 99.90) scale(1.250 1)" font-size="16.60" font-weight="bold" font-style="italic" stroke-width="0.60">0</text>
<text transform="translate(66.40 99.90) scale(1.146 1)" font-size="16.60" font-weight="bold" font-style="italic" stroke-width="0.60">2</text>
<rect x="53.20" y="94.20" width="9.10" height="2.2" fill="#000" stroke="none"/>
<text transform="translate(77.55 136.00) scale(1.250 1)" font-size="16.60" font-weight="bold" font-style="italic" stroke-width="0.60">0</text>
<text transform="translate(66.68 136.00) scale(1.115 1)" font-size="16.60" font-weight="bold" font-style="italic" stroke-width="0.60">4</text>
<rect x="52.10" y="130.30" width="9.10" height="2.2" fill="#000" stroke="none"/>
<text transform="translate(77.55 172.10) scale(1.250 1)" font-size="16.60" font-weight="bold" font-style="italic" stroke-width="0.60">0</text>
<text transform="translate(65.47 172.10) scale(1.213 1)" font-size="16.60" font-weight="bold" font-style="italic" stroke-width="0.60">6</text>
<rect x="53.20" y="166.40" width="9.10" height="2.2" fill="#000" stroke="none"/>
<text transform="translate(77.55 208.20) scale(1.250 1)" font-size="16.60" font-weight="bold" font-style="italic" stroke-width="0.60">0</text>
<text transform="translate(66.10 208.20) scale(1.146 1)" font-size="16.60" font-weight="bold" font-style="italic" stroke-width="0.60">8</text>
<rect x="53.20" y="202.50" width="9.10" height="2.2" fill="#000" stroke="none"/>
<text transform="translate(77.55 244.30) scale(1.250 1)" font-size="16.60" font-weight="bold" font-style="italic" stroke-width="0.60">0</text>
<text transform="translate(65.45 244.30) scale(1.250 1)" font-size="16.60" font-weight="bold" font-style="italic" stroke-width="0.60">0</text>
<text transform="translate(54.44 244.30) scale(1.012 1)" font-size="16.60" font-weight="bold" font-style="italic" stroke-width="0.60">1</text>
<rect x="40.80" y="238.60" width="9.30" height="2.2" fill="#000" stroke="none"/>
<text transform="translate(94.63 259.20) scale(1.285 1)" font-size="16.60" font-weight="bold" font-style="italic" stroke-width="0.60">0</text>
<text transform="translate(168.00 259.20) scale(1.145 1)" font-size="16.60" font-weight="bold" font-style="italic" stroke-width="0.60">1</text>
<text transform="translate(240.81 259.20) scale(1.178 1)" font-size="16.60" font-weight="bold" font-style="italic" stroke-width="0.60">2</text>
<text transform="translate(313.30 259.20) scale(1.223 1)" font-size="16.60" font-weight="bold" font-style="italic" stroke-width="0.60">3</text>
<text transform="translate(386.99 259.20) scale(1.146 1)" font-size="16.60" font-weight="bold" font-style="italic" stroke-width="0.60">4</text>
<text transform="translate(458.80 259.20) scale(1.157 1)" font-size="16.60" font-weight="bold" font-style="italic" stroke-width="0.60">5</text>
<text transform="translate(278.57 289.30) scale(1.147 1)" font-size="18.40" font-weight="bold" font-style="italic" stroke-width="0.50">r</text>
<text transform="translate(-0.20 126.80) scale(1.055 1)" font-size="18.20" font-weight="bold" font-style="italic" stroke-width="0.50">V</text>
<text transform="translate(14.01 130.00) scale(0.985 1)" font-size="12.60" font-weight="bold" font-style="italic" stroke-width="0.35">e</text>
<text transform="translate(20.70 130.00) scale(1.280 1)" font-size="12.60" font-weight="bold" font-style="italic" stroke-width="0.35">f</text>
<text transform="translate(26.21 130.00) scale(1.239 1)" font-size="12.60" font-weight="bold" font-style="italic" stroke-width="0.35">f</text>
<line x1="343.1" y1="90.80" x2="396" y2="90.80" stroke="#0000ff" stroke-width="2.3" stroke-dasharray="7.7 2.94"/>
<text transform="translate(405.78 95.80) scale(1.040 1)" font-size="14.80" font-weight="normal" font-style="italic" stroke-width="0.50">ρ</text>
<text transform="translate(413.91 95.40) scale(1.208 1)" font-size="12.20" font-weight="bold" font-style="italic" stroke-width="0.50">=</text>
<text transform="translate(422.45 95.80) scale(1.179 1)" font-size="14.80" font-weight="bold" font-style="italic" stroke-width="0.30">0</text>
<line x1="343.1" y1="117.00" x2="396.3" y2="117.00" stroke="#ff8000" stroke-width="2.3"/>
<text transform="translate(403.70 122.00) scale(1.196 1)" font-size="14.80" font-weight="bold" font-style="italic" stroke-width="0.30">a</text>
<text transform="translate(413.31 121.60) scale(1.208 1)" font-size="12.20" font-weight="bold" font-style="italic" stroke-width="0.50">=</text>
<text transform="translate(422.66 122.00) scale(1.027 1)" font-size="14.80" font-weight="bold" font-style="italic" stroke-width="0.30">1</text>
<text transform="translate(432.80 122.00) scale(0.865 1)" font-size="14.80" font-weight="bold" font-style="italic" stroke-width="0.30">.</text>
<text transform="translate(437.40 122.00) scale(1.099 1)" font-size="14.80" font-weight="bold" font-style="italic" stroke-width="0.30">5</text>
<line x1="343.1" y1="143.20" x2="396.3" y2="143.20" stroke="#00ff00" stroke-width="2.3"/>
<text transform="translate(403.70 148.20) scale(1.196 1)" font-size="14.80" font-weight="bold" font-style="italic" stroke-width="0.30">a</text>
<text transform="translate(413.31 147.80) scale(1.208 1)" font-size="12.20" font-weight="bold" font-style="italic" stroke-width="0.50">=</text>
<text transform="translate(422.66 148.20) scale(1.027 1)" font-size="14.80" font-weight="bold" font-style="italic" stroke-width="0.30">1</text>
<text transform="translate(432.80 148.20) scale(0.865 1)" font-size="14.80" font-weight="bold" font-style="italic" stroke-width="0.30">.</text>
<text transform="translate(437.40 148.20) scale(1.129 1)" font-size="14.80" font-weight="bold" font-style="italic" stroke-width="0.30">8</text>
<line x1="343.1" y1="169.40" x2="396.3" y2="169.40" stroke="#ff0000" stroke-width="2.3"/>
<text transform="translate(403.70 174.40) scale(1.196 1)" font-size="14.80" font-weight="bold" font-style="italic" stroke-width="0.30">a</text>
<text transform="translate(413.31 174.00) scale(1.208 1)" font-size="12.20" font-weight="bold" font-style="italic" stroke-width="0.50">=</text>
<text transform="translate(422.83 174.40) scale(1.009 1)" font-size="14.80" font-weight="bold" font-style="italic" stroke-width="0.30">2</text>
<text transform="translate(432.80 174.40) scale(0.865 1)" font-size="14.80" font-weight="bold" font-style="italic" stroke-width="0.30">.</text>
<text transform="translate(436.83 174.40) scale(1.232 1)" font-size="14.80" font-weight="bold" font-style="italic" stroke-width="0.30">0</text>
<line x1="343.1" y1="195.60" x2="396.3" y2="195.60" stroke="#800080" stroke-width="2.3"/>
<text transform="translate(403.70 200.60) scale(1.196 1)" font-size="14.80" font-weight="bold" font-style="italic" stroke-width="0.30">a</text>
<text transform="translate(413.31 200.20) scale(1.208 1)" font-size="12.20" font-weight="bold" font-style="italic" stroke-width="0.50">=</text>
<text transform="translate(422.83 200.60) scale(1.009 1)" font-size="14.80" font-weight="bold" font-style="italic" stroke-width="0.30">2</text>
<text transform="translate(432.80 200.60) scale(0.865 1)" font-size="14.80" font-weight="bold" font-style="italic" stroke-width="0.30">.</text>
<text transform="translate(437.66 200.60) scale(1.129 1)" font-size="14.80" font-weight="bold" font-style="italic" stroke-width="0.30">2</text>
</g>
</svg>
</body></html>
